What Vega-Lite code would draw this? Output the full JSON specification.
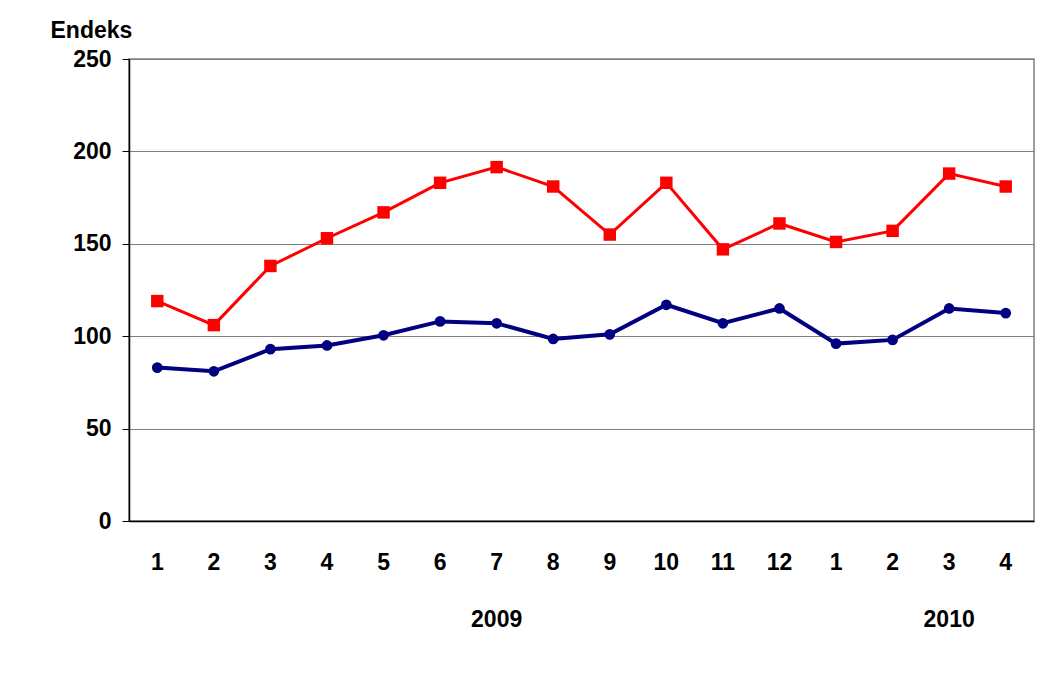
{
  "$schema": "https://vega.github.io/schema/vega-lite/v6.json",
  "width": 905,
  "height": 462,
  "autosize": "none",
  "padding": {"left": 129, "top": 59, "right": 6, "bottom": 176},
  "background": "white",
  "data": {
    "values": [
      {"key": "2009-01", "series": "İmalat Sanayi", "value": 83},
      {"key": "2009-02", "series": "İmalat Sanayi", "value": 81},
      {"key": "2009-03", "series": "İmalat Sanayi", "value": 93},
      {"key": "2009-04", "series": "İmalat Sanayi", "value": 95},
      {"key": "2009-05", "series": "İmalat Sanayi", "value": 100.5},
      {"key": "2009-06", "series": "İmalat Sanayi", "value": 108},
      {"key": "2009-07", "series": "İmalat Sanayi", "value": 107},
      {"key": "2009-08", "series": "İmalat Sanayi", "value": 98.5},
      {"key": "2009-09", "series": "İmalat Sanayi", "value": 101},
      {"key": "2009-10", "series": "İmalat Sanayi", "value": 117},
      {"key": "2009-11", "series": "İmalat Sanayi", "value": 107},
      {"key": "2009-12", "series": "İmalat Sanayi", "value": 115},
      {"key": "2010-01", "series": "İmalat Sanayi", "value": 96},
      {"key": "2010-02", "series": "İmalat Sanayi", "value": 98},
      {"key": "2010-03", "series": "İmalat Sanayi", "value": 115},
      {"key": "2010-04", "series": "İmalat Sanayi", "value": 112.5},
      {"key": "2009-01", "series": "Ağaç ve Mantar Ürünleri İmalatı", "value": 119},
      {"key": "2009-02", "series": "Ağaç ve Mantar Ürünleri İmalatı", "value": 106},
      {"key": "2009-03", "series": "Ağaç ve Mantar Ürünleri İmalatı", "value": 138},
      {"key": "2009-04", "series": "Ağaç ve Mantar Ürünleri İmalatı", "value": 153},
      {"key": "2009-05", "series": "Ağaç ve Mantar Ürünleri İmalatı", "value": 167},
      {"key": "2009-06", "series": "Ağaç ve Mantar Ürünleri İmalatı", "value": 183},
      {"key": "2009-07", "series": "Ağaç ve Mantar Ürünleri İmalatı", "value": 191.5},
      {"key": "2009-08", "series": "Ağaç ve Mantar Ürünleri İmalatı", "value": 181},
      {"key": "2009-09", "series": "Ağaç ve Mantar Ürünleri İmalatı", "value": 155},
      {"key": "2009-10", "series": "Ağaç ve Mantar Ürünleri İmalatı", "value": 183},
      {"key": "2009-11", "series": "Ağaç ve Mantar Ürünleri İmalatı", "value": 147},
      {"key": "2009-12", "series": "Ağaç ve Mantar Ürünleri İmalatı", "value": 161},
      {"key": "2010-01", "series": "Ağaç ve Mantar Ürünleri İmalatı", "value": 151},
      {"key": "2010-02", "series": "Ağaç ve Mantar Ürünleri İmalatı", "value": 157},
      {"key": "2010-03", "series": "Ağaç ve Mantar Ürünleri İmalatı", "value": 188},
      {"key": "2010-04", "series": "Ağaç ve Mantar Ürünleri İmalatı", "value": 181}
    ]
  },
  "encoding": {
    "x": {
      "field": "key", "type": "ordinal",
      "scale": {"type": "band", "paddingInner": 0, "paddingOuter": 0},
      "axis": {
        "title": null, "grid": false, "ticks": false,
        "domain": true, "domainColor": "black", "domainWidth": 1.5,
        "labelAngle": 0, "labelPadding": 30, "labelBaseline": "top",
        "labelLineHeight": 57, "labelOverlap": false,
        "labelExpr": "datum.value === '2009-07' ? ['7', '2009'] : datum.value === '2010-03' ? ['3', '2010'] : slice(datum.value, 5, 6) === '0' ? slice(datum.value, 6) : slice(datum.value, 5)"
      }
    },
    "y": {
      "field": "value", "type": "quantitative",
      "scale": {"domain": [0, 250]},
      "axis": {"title": "Endeks", "values": [0, 50, 100, 150, 200, 250]}
    }
  },
  "layer": [
    {
      "transform": [{"filter": "datum.series === 'İmalat Sanayi'"}],
      "mark": {"type": "line", "strokeWidth": 4},
      "encoding": {
        "color": {
          "field": "series", "type": "nominal",
          "scale": {"domain": ["İmalat Sanayi", "Ağaç ve Mantar Ürünleri İmalatı"], "range": ["#000080", "#FF0000"]},
          "legend": null
        }
      }
    },
    {
      "transform": [{"filter": "datum.series !== 'İmalat Sanayi'"}],
      "mark": {"type": "line", "strokeWidth": 3},
      "encoding": {
        "color": {"field": "series", "type": "nominal", "legend": null}
      }
    },
    {
      "transform": [{"filter": "datum.series === 'İmalat Sanayi'"}],
      "mark": {"type": "point", "filled": true, "opacity": 1, "size": 115},
      "encoding": {
        "color": {
          "field": "series", "type": "nominal",
          "legend": {
            "orient": "none", "legendX": 86, "legendY": 595, "direction": "horizontal",
            "title": null, "padding": 0, "symbolSize": 150, "labelOffset": 24, "columnPadding": 153,
            "labelFont": "Liberation Sans", "labelFontSize": 24, "labelFontWeight": "bold", "labelColor": "black",
            "labelLimit": 600
          }
        },
        "shape": {
          "field": "series", "type": "nominal",
          "scale": {"domain": ["İmalat Sanayi", "Ağaç ve Mantar Ürünleri İmalatı"], "range": ["circle", "square"]},
          "legend": {
            "orient": "none", "legendX": 86, "legendY": 595, "direction": "horizontal",
            "title": null, "padding": 0, "symbolSize": 150, "labelOffset": 24, "columnPadding": 153,
            "labelFont": "Liberation Sans", "labelFontSize": 24, "labelFontWeight": "bold", "labelColor": "black",
            "labelLimit": 600
          }
        }
      }
    },
    {
      "transform": [{"filter": "datum.series !== 'İmalat Sanayi'"}],
      "mark": {"type": "point", "filled": true, "opacity": 1, "size": 155},
      "encoding": {
        "color": {"field": "series", "type": "nominal"},
        "shape": {"field": "series", "type": "nominal"}
      }
    }
  ],
  "config": {
    "font": "Liberation Sans",
    "view": {"stroke": "#808080", "strokeWidth": 1.5},
    "axis": {
      "labelFont": "Liberation Sans", "labelFontSize": 23, "labelFontWeight": "bold", "labelColor": "black",
      "titleFont": "Liberation Sans", "titleFontSize": 23, "titleFontWeight": "bold", "titleColor": "black"
    },
    "axisY": {
      "grid": true, "gridColor": "#808080", "gridWidth": 1,
      "tickSize": 7, "tickColor": "black", "domainColor": "black", "domainWidth": 1.5,
      "labelPadding": 11,
      "titleAngle": 0, "titleAlign": "left", "titleBaseline": "alphabetic",
      "titleX": -79, "titleY": -22
    }
  }
}
